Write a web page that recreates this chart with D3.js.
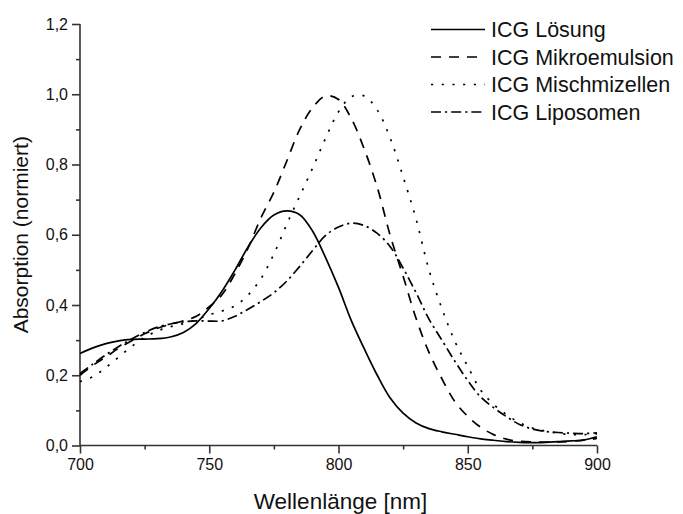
<!DOCTYPE html>
<html>
<head>
<meta charset="utf-8">
<script src="https://cdn.jsdelivr.net/npm/d3@7"></script>
<style>
  html, body { margin: 0; padding: 0; background: #fff; }
  svg { display: block; }
  text { font-family: "Liberation Sans", Arial, sans-serif; fill: #111; }
</style>
</head>
<body>
<svg id="chart" width="683" height="514"></svg>
<script>
// Wavelength grid (nm)
const wavelengths = [700,705,710,715,720,725,730,735,740,745,750,755,760,765,770,775,780,785,790,795,
                     800,805,810,815,820,825,830,835,840,845,850,855,860,865,870,875,880,885,890,895,900];

// Normalised absorption of the four ICG formulations
const loesung = [0.262,0.278,0.290,0.298,0.302,0.303,0.304,0.309,0.322,0.348,0.390,0.440,0.500,0.565,0.620,0.656,0.668,0.657,0.610,0.535,
                 0.450,0.355,0.275,0.200,0.135,0.092,0.064,0.048,0.039,0.032,0.025,0.019,0.015,0.011,0.009,0.008,0.009,0.011,0.013,0.016,0.025];
const mikroemulsion = [0.200,0.228,0.252,0.277,0.298,0.318,0.334,0.345,0.355,0.368,0.395,0.430,0.490,0.562,0.648,0.721,0.810,0.900,0.962,0.995,
                       0.985,0.930,0.843,0.735,0.598,0.482,0.362,0.265,0.190,0.125,0.083,0.052,0.031,0.018,0.012,0.010,0.010,0.010,0.012,0.015,0.020];
const mischmizellen = [0.182,0.196,0.222,0.252,0.282,0.308,0.326,0.338,0.347,0.358,0.372,0.383,0.398,0.428,0.475,0.545,0.630,0.710,0.790,0.875,
                       0.950,0.993,0.995,0.955,0.875,0.765,0.645,0.500,0.390,0.297,0.225,0.158,0.117,0.088,0.065,0.050,0.041,0.035,0.031,0.031,0.033];
const liposomen = [0.205,0.232,0.258,0.282,0.303,0.322,0.337,0.346,0.352,0.355,0.354,0.355,0.368,0.388,0.410,0.435,0.468,0.510,0.555,0.598,
                   0.622,0.633,0.626,0.604,0.566,0.505,0.435,0.360,0.300,0.240,0.185,0.138,0.108,0.082,0.060,0.047,0.040,0.037,0.035,0.034,0.036];

const seriesNames = ["ICG Lösung", "ICG Mikroemulsion", "ICG Mischmizellen", "ICG Liposomen"];
const seriesValues = [loesung, mikroemulsion, mischmizellen, liposomen];
const seriesDash = [null, "10,8", "2.2,8.5", "10,4,2.2,4"];

const xTicks = [700, 750, 800, 850, 900];
const xMinor = [725, 775, 825, 875];
const yTicks = [0, 0.2, 0.4, 0.6, 0.8, 1.0, 1.2];
const yMinor = [0.1, 0.3, 0.5, 0.7, 0.9, 1.1];

const xTitle = "Wellenlänge [nm]";
const yTitle = "Absorption (normiert)";

const svg = d3.select("#chart");
const plotLeft = 80, plotRight = 597, plotTop = 24, plotBottom = 445.5;

const x = d3.scaleLinear().domain([700, 900]).range([plotLeft, plotRight]);
const y = d3.scaleLinear().domain([0, 1.2]).range([plotBottom, plotTop]);

const de = d3.formatLocale({decimal: ",", thousands: ".", grouping: [3], currency: ["", " €"]});
const fmtY = de.format(".1f");

const axisColor = "#333";

// y axis: major and minor ticks
const gy = svg.append("g").attr("transform", `translate(${plotLeft},0)`)
  .call(d3.axisLeft(y).tickValues(yTicks).tickFormat(fmtY).tickSize(8).tickPadding(4));
svg.append("g").attr("transform", `translate(${plotLeft},0)`)
  .call(d3.axisLeft(y).tickValues(yMinor).tickFormat("").tickSize(4))
  .select(".domain").remove();

// x axis: major and minor ticks
const gx = svg.append("g").attr("transform", `translate(0,${plotBottom})`)
  .call(d3.axisBottom(x).tickValues(xTicks).tickFormat(d3.format("d")).tickSize(8).tickPadding(5));
svg.append("g").attr("transform", `translate(0,${plotBottom})`)
  .call(d3.axisBottom(x).tickValues(xMinor).tickFormat("").tickSize(4))
  .select(".domain").remove();

svg.selectAll(".domain, .tick line").attr("stroke", axisColor).attr("stroke-width", 1.6);
gy.select(".domain").attr("d", `M0,${plotBottom}V${plotTop}`);
gx.select(".domain").attr("d", `M${plotLeft},0H${plotRight}`);
svg.selectAll(".tick text").attr("font-size", 16).attr("fill", "#111")
  .attr("font-family", "'Liberation Sans', Arial, sans-serif");

// axis titles
svg.append("text")
  .attr("x", (plotLeft + plotRight) / 2 + 2).attr("y", 509)
  .attr("text-anchor", "middle").attr("font-size", 22.5)
  .text(xTitle);
svg.append("text")
  .attr("transform", `translate(28,${(plotTop + plotBottom) / 2}) rotate(-90)`)
  .attr("text-anchor", "middle").attr("font-size", 21)
  .text(yTitle);

// curves
const line = d3.line()
  .x((d, i) => x(wavelengths[i]))
  .y(d => y(d))
  .curve(d3.curveCatmullRom.alpha(0.5));

seriesValues.forEach((vals, k) => {
  svg.append("path")
    .attr("d", line(vals))
    .attr("fill", "none")
    .attr("stroke", "#000")
    .attr("stroke-width", 1.7)
    .attr("stroke-dasharray", seriesDash[k]);
});

// legend
const legY0 = 29.5, legDy = 27.5;
const leg = svg.append("g");
seriesNames.forEach((name, k) => {
  const yy = legY0 + k * legDy;
  leg.append("line")
    .attr("x1", 431).attr("x2", 485).attr("y1", yy).attr("y2", yy)
    .attr("stroke", "#000").attr("stroke-width", 1.7)
    .attr("stroke-dasharray", seriesDash[k]);
  leg.append("text")
    .attr("x", 491).attr("y", yy).attr("dy", "0.36em")
    .attr("font-size", 21.5)
    .text(name);
});
</script>
</body>
</html>
